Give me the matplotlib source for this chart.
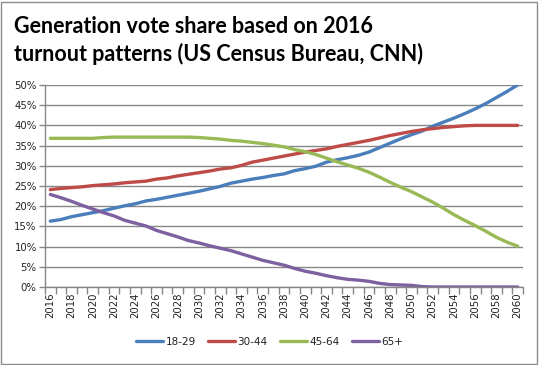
import matplotlib
matplotlib.use("Agg")
import matplotlib.pyplot as plt
from matplotlib.patches import Rectangle
from matplotlib.ticker import FixedLocator, FuncFormatter

years = list(range(2016, 2061))

s18_29 = [16.3, 16.7, 17.4, 17.9, 18.4, 18.9, 19.5, 20.1, 20.6, 21.3,
          21.7, 22.2, 22.7, 23.2, 23.7, 24.3, 24.9, 25.7, 26.2, 26.7,
          27.1, 27.6, 28.0, 28.8, 29.3, 29.9, 30.9, 31.5, 32.0, 32.6,
          33.4, 34.5, 35.6, 36.7, 37.7, 38.6, 39.8, 40.8, 41.8, 42.9,
          44.1, 45.4, 46.9, 48.4, 50.0]
s30_44 = [24.1, 24.4, 24.6, 24.8, 25.1, 25.3, 25.5, 25.8, 26.0, 26.2,
          26.7, 27.0, 27.5, 27.9, 28.3, 28.7, 29.2, 29.5, 30.1, 30.9,
          31.4, 31.9, 32.4, 32.9, 33.4, 33.8, 34.2, 34.8, 35.3, 35.8,
          36.3, 36.9, 37.5, 38.0, 38.5, 38.9, 39.2, 39.5, 39.7, 39.9,
          40.0, 40.0, 40.0, 40.0, 40.0]
s45_64 = [36.8, 36.8, 36.8, 36.8, 36.8, 37.0, 37.1, 37.1, 37.1, 37.1,
          37.1, 37.1, 37.1, 37.1, 37.0, 36.8, 36.6, 36.3, 36.1, 35.8,
          35.5, 35.1, 34.7, 34.0, 33.5, 32.8, 31.9, 31.0, 30.2, 29.4,
          28.4, 27.2, 25.9, 24.7, 23.6, 22.3, 21.0, 19.5, 17.9, 16.5,
          15.2, 13.8, 12.3, 11.1, 10.1]
s65p = [22.9, 22.1, 21.2, 20.2, 19.3, 18.4, 17.6, 16.5, 15.8, 15.1,
        14.0, 13.2, 12.4, 11.5, 10.9, 10.2, 9.6, 9.0, 8.2, 7.4,
        6.6, 6.0, 5.4, 4.6, 3.9, 3.4, 2.8, 2.3, 1.9, 1.7,
        1.4, 0.9, 0.6, 0.5, 0.4, 0.1, 0.0, 0.0, 0.0, 0.0,
        0.0, 0.0, 0.0, 0.0, 0.0]

series_names = ["18-29", "30-44", "45-64", "65+"]
series_values = [s18_29, s30_44, s45_64, s65p]
series_colors = ["#4A7EBB", "#BE4B48", "#98B954", "#7D60A0"]

y_ticks = [0, 5, 10, 15, 20, 25, 30, 35, 40, 45, 50]

W, H = 539, 365
fig = plt.figure(figsize=(W / 100, H / 100), dpi=100)
fig.patch.set_facecolor("white")

# outer chart border
fig.add_artist(Rectangle((1 / W, 1 / H), (W - 3) / W, (H - 3) / H,
                         transform=fig.transFigure, fill=False,
                         edgecolor="#8C8C8C", linewidth=1.0))

ax = fig.add_axes([45 / W, 1 - 287 / H, (523 - 45) / W, (287 - 85) / H])

x = list(range(len(years)))
for name, vals, col in zip(series_names, series_values, series_colors):
    ax.plot(x, vals, color=col, linewidth=2.4, label=name,
            solid_capstyle="round", solid_joinstyle="round")

ax.set_xlim(-0.5, len(years) - 0.5)
ax.set_ylim(0, 50)

grid_col = "#868686"
ax.set_yticks(y_ticks)
ax.yaxis.set_major_formatter(FuncFormatter(lambda v, p: f"{int(v)}%"))
ax.yaxis.grid(True, color=grid_col, linewidth=1.0)
ax.set_axisbelow(True)

# x labels every 2 years at category centres
lab_idx = [i for i, yv in enumerate(years) if (yv - 2016) % 2 == 0]
ax.set_xticks(lab_idx)
ax.set_xticklabels([str(years[i]) for i in lab_idx], rotation=90,
                   fontsize=7.3, family="DejaVu Sans", color="#222222")
ax.tick_params(axis="x", which="major", length=0, pad=4)
ax.xaxis.set_minor_locator(FixedLocator([i - 0.5 for i in range(len(years) + 1)]))
ax.tick_params(axis="x", which="minor", length=5, color=grid_col, width=1.0)
ax.tick_params(axis="y", length=4, color=grid_col, width=1.0,
               labelsize=7.3, labelcolor="#222222", pad=2)

for side in ["top", "right"]:
    ax.spines[side].set_visible(False)
for side in ["left", "bottom"]:
    ax.spines[side].set_color(grid_col)
    ax.spines[side].set_linewidth(1.0)

fig.text(14 / W, 1 - 33 / H, "Generation vote share based on 2016",
         fontsize=15.5, fontweight="bold", family="Lato", color="black",
         ha="left", va="baseline")
fig.text(14 / W, 1 - 61 / H, "turnout patterns (US Census Bureau, CNN)",
         fontsize=15.5, fontweight="bold", family="Lato", color="black",
         ha="left", va="baseline")

leg = fig.legend(loc="center", bbox_to_anchor=(0.5, 1 - 342 / H), ncol=4,
                 frameon=False, fontsize=7.5, handlelength=2.6,
                 handletextpad=0.2, columnspacing=1.2)
for t in leg.get_texts():
    t.set_color("#222222")

fig.savefig("out.png", dpi=100, facecolor="white")
